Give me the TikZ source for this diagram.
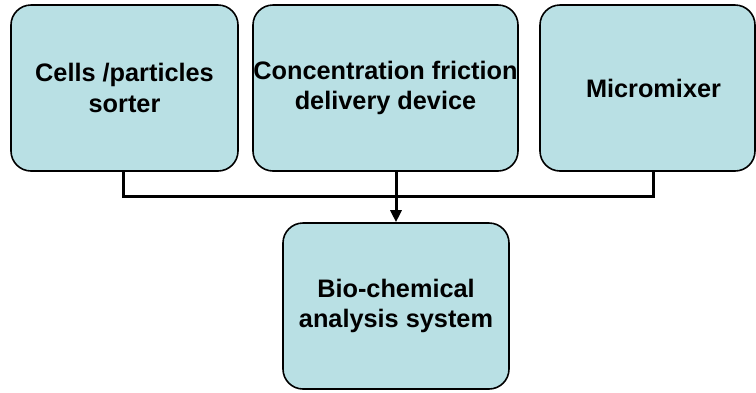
\documentclass[tikz,border=0pt]{standalone}
\usepackage{fontspec}
\setmainfont{Liberation Sans}
\usetikzlibrary{arrows.meta}
\definecolor{boxfill}{RGB}{185,224,228}
\begin{document}
\begin{tikzpicture}[x=1pt,y=1pt,
  block/.style={draw=black,line width=1.6pt,fill=boxfill,rounded corners=20pt,
    minimum height=166pt,inner sep=0pt,align=center,
    font=\bfseries\fontsize{25.3}{30.5}\selectfont},
  conn/.style={draw=black,line width=3pt}]
\useasboundingbox (0,0) rectangle (756,-392);
\node[block,minimum width=227pt] (b1) at (124.5,-88) {Cells /particles\\sorter};
\node[block,minimum width=265pt] (b2) at (385.5,-88) {Concentration friction\\delivery device};
\node[block,minimum width=215pt] (b3) at (647.5,-88) {\hspace*{12pt}Micromixer};
\node[block,minimum width=226pt] (b4) at (396,-306) {Bio-chemical\\analysis system};
\coordinate (j) at (396,-196);
\draw[conn] ([xshift=-1.5pt]b1.south) |- (j);
\draw[conn] ([xshift=5.5pt]b3.south) |- (j);
\draw[conn,-{Triangle[length=12pt,width=11pt]}] (b2.south -| b4.north) -- (b4.north);
\end{tikzpicture}
\end{document}
